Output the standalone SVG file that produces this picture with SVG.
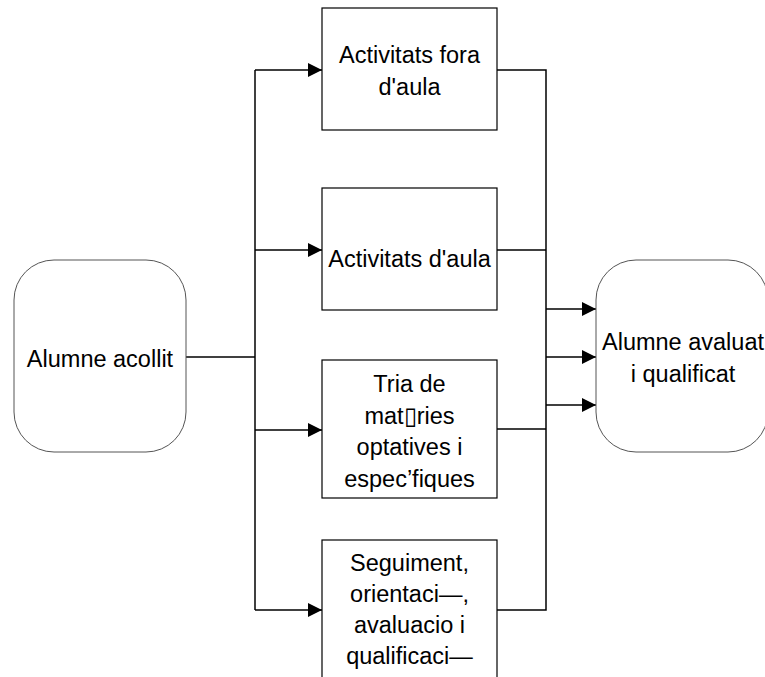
<svg xmlns="http://www.w3.org/2000/svg" width="765" height="677" viewBox="0 0 765 677">
<style>
text{font-family:"Liberation Sans",Arial,sans-serif;font-size:23.5px;fill:#000;text-anchor:middle}
.box{fill:#fff;stroke:#000;stroke-width:1.2}
.rbox{fill:#fff;stroke:#555;stroke-width:1}
.ln{fill:none;stroke:#000;stroke-width:1.5}
</style>
<defs>
<marker id="ah" markerWidth="14" markerHeight="14" viewBox="0 0 14 14" refX="14" refY="7" orient="auto" markerUnits="userSpaceOnUse">
<path d="M0,0 L14,7 L0,14 Z" fill="#000"/>
</marker>
</defs>
<rect width="765" height="677" fill="#fff"/>
<g id="connectors">
<path class="ln" d="M186,357 H255"/>
<path class="ln" d="M255,70 V610"/>
<path class="ln" d="M255,70 H322" marker-end="url(#ah)"/>
<path class="ln" d="M255,250 H322" marker-end="url(#ah)"/>
<path class="ln" d="M255,430 H322" marker-end="url(#ah)"/>
<path class="ln" d="M255,610 H322" marker-end="url(#ah)"/>
<path class="ln" d="M497,70 H546 V610 H497"/>
<path class="ln" d="M497,250 H546"/>
<path class="ln" d="M497,429 H546"/>
<path class="ln" d="M546,309 H596" marker-end="url(#ah)"/>
<path class="ln" d="M546,357 H596" marker-end="url(#ah)"/>
<path class="ln" d="M546,405 H596" marker-end="url(#ah)"/>
</g>
<g id="alumne-acollit">
<rect class="rbox" x="14" y="260" width="172" height="192" rx="40" ry="40"/>
<text x="100" y="367">Alumne acollit</text>
</g>
<g id="activitats-fora">
<rect class="box" x="322" y="8" width="175" height="122"/>
<text x="409.5" y="63">Activitats fora</text>
<text x="409.5" y="95">d'aula</text>
</g>
<g id="activitats-aula">
<rect class="box" x="322" y="188" width="175" height="122"/>
<text x="409.5" y="267">Activitats d'aula</text>
</g>
<g id="tria-materies">
<rect class="box" x="322" y="360" width="175" height="138"/>
<text x="409.5" y="392">Tria de</text>
<text x="409.5" y="424">mat▯ries</text>
<text x="409.5" y="455">optatives i</text>
<text x="409.5" y="487">espec’fiques</text>
</g>
<g id="seguiment">
<rect class="box" x="322" y="540" width="175" height="160"/>
<text x="409.5" y="571">Seguiment,</text>
<text x="409.5" y="602">orientaci—,</text>
<text x="409.5" y="633">avaluacio i</text>
<text x="409.5" y="664">qualificaci—</text>
</g>
<g id="alumne-avaluat">
<rect class="rbox" x="596" y="260" width="172" height="192" rx="40" ry="40"/>
<text x="683" y="350">Alumne avaluat</text>
<text x="683" y="382">i qualificat</text>
</g>
</svg>
